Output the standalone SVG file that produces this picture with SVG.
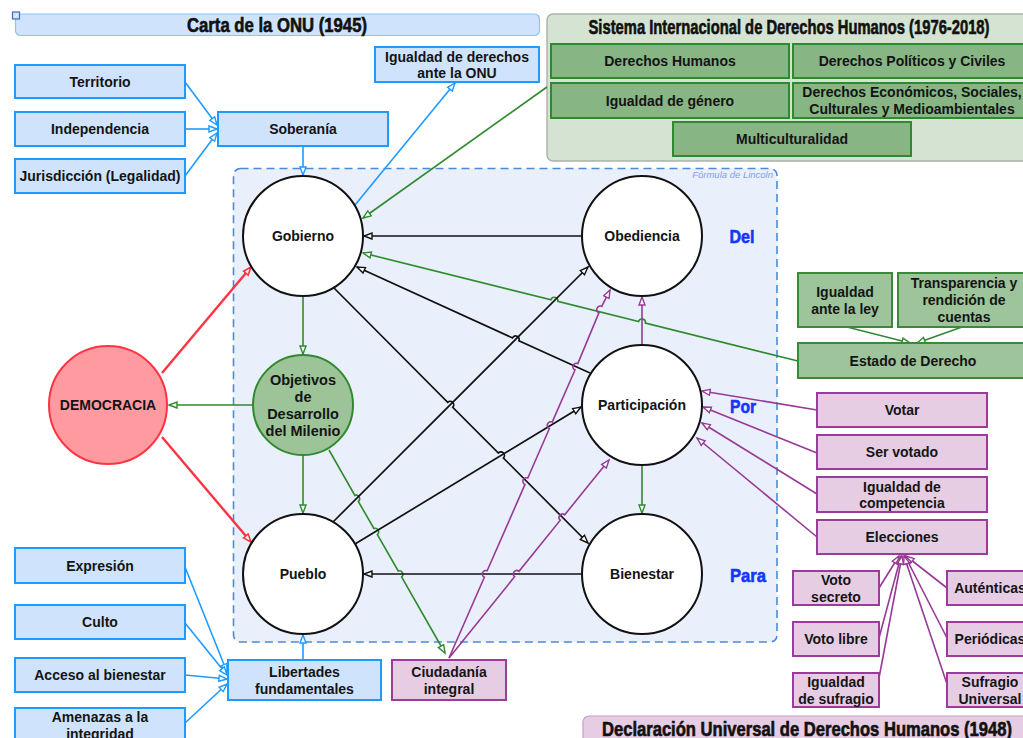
<svg xmlns="http://www.w3.org/2000/svg" width="1023" height="738" viewBox="0 0 1023 738">
  <style>
    .t { font-family: "Liberation Sans", Arial, sans-serif; font-weight: bold; font-size: 14px; fill: #141414; text-anchor: middle; }
    .tc { font-size: 14px; }
    .tobj { font-size: 14.5px; }
    .ttl { font-family: "Liberation Sans", Arial, sans-serif; font-weight: bold; font-size: 19.5px; fill: #111; stroke: #111; stroke-width: 0.6; text-anchor: middle; }
    .dpp { font-family: "Liberation Sans", Arial, sans-serif; font-weight: bold; font-size: 19px; fill: #1535ff; stroke: #1535ff; stroke-width: 0.6; text-anchor: middle; }
    .note { font-family: "Liberation Sans", Arial, sans-serif; font-style: italic; font-size: 9.5px; fill: #7f9fe6; text-anchor: end; }
    .bb { fill: #cfe4fc; stroke: #1e9bff; stroke-width: 2; }
    .pb { fill: #e6cde4; stroke: #9b3c9b; stroke-width: 2; }
    .gb { fill: #9dc49a; stroke: #3a8a3a; stroke-width: 2; }
    .gd { fill: #87b584; stroke: #2f8a2f; stroke-width: 2; }
    .circ { fill: #ffffff; stroke: #111; stroke-width: 2; }
    .k { fill: none; stroke: #111; stroke-width: 1.7; marker-end: url(#ak); }
    .b { fill: none; stroke: #1e9bff; stroke-width: 1.6; marker-end: url(#ab); }
    .g { fill: none; stroke: #2f8a2f; stroke-width: 1.6; marker-end: url(#ag); }
    .p { fill: none; stroke: #963a96; stroke-width: 1.6; marker-end: url(#ap); }
    .r { fill: none; stroke: #ff3344; stroke-width: 2.4; marker-end: url(#ar); }
  </style>
  <defs>
    <marker id="ak" markerUnits="userSpaceOnUse" markerWidth="12" markerHeight="10" refX="9" refY="4" orient="auto">
      <path d="M1,1 L9,4 L1,7 Z" fill="#fff" stroke="#111" stroke-width="1.4"/>
    </marker>
    <marker id="ab" markerUnits="userSpaceOnUse" markerWidth="12" markerHeight="10" refX="9" refY="4" orient="auto">
      <path d="M1,1 L9,4 L1,7 Z" fill="#fff" stroke="#1e9bff" stroke-width="1.4"/>
    </marker>
    <marker id="ag" markerUnits="userSpaceOnUse" markerWidth="12" markerHeight="10" refX="9" refY="4" orient="auto">
      <path d="M1,1 L9,4 L1,7 Z" fill="#fff" stroke="#2f8a2f" stroke-width="1.4"/>
    </marker>
    <marker id="ap" markerUnits="userSpaceOnUse" markerWidth="12" markerHeight="10" refX="9" refY="4" orient="auto">
      <path d="M1,1 L9,4 L1,7 Z" fill="#fff" stroke="#963a96" stroke-width="1.4"/>
    </marker>
    <marker id="ar" markerUnits="userSpaceOnUse" markerWidth="12" markerHeight="10" refX="9" refY="4" orient="auto">
      <path d="M1,1 L9,4 L1,7 Z" fill="#fff" stroke="#ff3344" stroke-width="1.6"/>
    </marker>
  </defs>

  <rect width="1023" height="738" fill="#ffffff"/>

  <!-- Headers and containers -->
  <g id="carta-onu">
    <rect x="15.5" y="14" width="524" height="21.5" rx="5" fill="#cfe4fc" stroke="#8cc2f6" stroke-width="1.2"/>
    <text class="ttl" x="277" y="32" textLength="180" lengthAdjust="spacingAndGlyphs">Carta de la ONU (1945)</text>
    <rect x="12.5" y="12" width="7" height="7" fill="#cfe4fc" stroke="#3d6fb8" stroke-width="1.2"/>
    <path d="M15,17 L18,14" stroke="#ffffff" stroke-width="0.8"/>
  </g>

  <g id="sistema-internacional">
    <rect x="547" y="14" width="490" height="147" rx="6" fill="#d5e4d2" stroke="#a9b1a9" stroke-width="1.4"/>
    <text class="ttl" x="789" y="34" textLength="401" lengthAdjust="spacingAndGlyphs">Sistema Internacional de Derechos Humanos (1976-2018)</text>
  </g>

  <g id="formula-lincoln">
    <rect x="233.5" y="168.5" width="543.5" height="473.5" rx="7" fill="#eaf0fb" stroke="#4a8ad8" stroke-width="1.6" stroke-dasharray="8,5"/>
    <text class="note" x="773" y="178">Fórmula de Lincoln</text>
  </g>

  <g id="declaracion-universal">
    <rect x="583" y="716" width="460" height="30" rx="6" fill="#e6cde4" stroke="#c79ec6" stroke-width="1.2"/>
    <text class="ttl" x="807" y="736" textLength="410" lengthAdjust="spacingAndGlyphs">Declaración Universal de Derechos Humanos (1948)</text>
  </g>

  <!-- Connectors -->
  <g id="connectors">
    <!-- blue -->
    <path class="b" d="M185,82 L217,125"/>
    <path class="b" d="M185,129 L217,129"/>
    <path class="b" d="M185,176 L217,133"/>
    <path class="b" d="M303,146 L303,175"/>
    <path class="b" d="M355,205 L455,83"/>
    <path class="b" d="M185,567 L227,672"/>
    <path class="b" d="M185,623 L227,675"/>
    <path class="b" d="M185,675 L227,679"/>
    <path class="b" d="M185,723 L227,684"/>
    <path class="b" d="M303,660 L303,635"/>
    <!-- red -->
    <path class="r" d="M162,373 L251,267"/>
    <path class="r" d="M162,437 L251,542"/>
    <!-- green -->
    <path class="g" d="M303,296 L303,354"/>
    <path class="g" d="M303,455 L303,513"/>
    <path class="g" d="M253,405 L169,405"/>
    <path class="g" d="M642,465 L642,513"/>
    <path class="g" d="M798,361 L645.4,323.1 A3.5,3.5 0 0 0 638.6,321.5 L557.8,301.4 A3.5,3.5 0 0 0 551,299.8 L363,253"/>
    <path class="g" d="M547,87 L363,218"/>
    <path class="g" d="M329,450 L354.9,495.4 A3.5,3.5 0 0 1 358.3,501.4 L373.9,528.5 A3.5,3.5 0 0 1 377.3,534.5 L398.2,571 A3.5,3.5 0 0 1 401.6,577 L445,653"/>
    <path class="g" d="M847,327 L910,343"/>
    <path class="g" d="M962,327 L917,343"/>
    <!-- black -->
    <path class="k" d="M582,236 L364,236"/>
    <path class="k" d="M590,373 L518.9,340.7 A3.5,3.5 0 0 0 512.5,337.9 L357,267"/>
    <path class="k" d="M333,287 L447.7,402.3 A3.5,3.5 0 0 1 452.7,407.3 L498.4,453 A3.5,3.5 0 0 1 503.4,458 L588,543"/>
    <path class="k" d="M332,523 L588,267"/>
    <path class="k" d="M355,544 L581,407"/>
    <path class="k" d="M582,574 L364,574"/>
    <!-- purple -->
    <path class="p" d="M642,345 L642,297"/>
    <path class="p" d="M449,658 L484.35,577.21 A3.5,3.5 0 0 1 487.15,570.79 L525,484.41 A3.5,3.5 0 0 1 527.8,477.99 L549.4,428.51 A3.5,3.5 0 0 1 552.2,422.09 L575,370.01 A3.5,3.5 0 0 1 577.8,363.59 L598.9,312.81 A3.5,3.5 0 0 1 601.7,306.39 L610,290"/>
    <path class="p" d="M449,658 L514.6,576.72 A3.5,3.5 0 0 1 519,571.28 L560.3,520.22 A3.5,3.5 0 0 1 564.7,514.78 L609,460"/>
    <path class="p" d="M817,410 L702,391"/>
    <path class="p" d="M817,453 L703,407"/>
    <path class="p" d="M817,494 L702,423"/>
    <path class="p" d="M817,537 L697,438"/>
    <path class="p" d="M879,588 L899,556"/>
    <path class="p" d="M879,638 L901,556"/>
    <path class="p" d="M879,678 L902,556"/>
    <path class="p" d="M947,588 L906,556"/>
    <path class="p" d="M947,638 L905,556"/>
    <path class="p" d="M947,684 L904,556"/>
  </g>

  <!-- Blue nodes -->
  <g id="territorio"><rect class="bb" x="15" y="65" width="170" height="33"/><text class="t" x="100" y="86.5">Territorio</text></g>
  <g id="independencia"><rect class="bb" x="15" y="112" width="170" height="34"/><text class="t" x="100" y="134">Independencia</text></g>
  <g id="jurisdiccion"><rect class="bb" x="15" y="159" width="170" height="34"/><text class="t" x="100" y="181">Jurisdicción (Legalidad)</text></g>
  <g id="soberania"><rect class="bb" x="218" y="112" width="170" height="34"/><text class="t" x="303" y="134">Soberanía</text></g>
  <g id="igualdad-onu"><rect class="bb" x="375" y="47" width="164" height="35"/><text class="t" x="457" y="61.5">Igualdad de derechos</text><text class="t" x="457" y="77.5">ante la ONU</text></g>
  <g id="expresion"><rect class="bb" x="15" y="548" width="170" height="35"/><text class="t" x="100" y="570.5">Expresión</text></g>
  <g id="culto"><rect class="bb" x="15" y="605" width="170" height="34"/><text class="t" x="100" y="627">Culto</text></g>
  <g id="acceso-bienestar"><rect class="bb" x="15" y="658" width="170" height="34"/><text class="t" x="100" y="680">Acceso al bienestar</text></g>
  <g id="amenazas"><rect class="bb" x="15" y="708" width="170" height="36"/><text class="t" x="100" y="722">Amenazas a la</text><text class="t" x="100" y="738.5">integridad</text></g>
  <g id="libertades"><rect class="bb" x="228" y="660" width="153" height="40"/><text class="t" x="304.5" y="677">Libertades</text><text class="t" x="304.5" y="694">fundamentales</text></g>

  <!-- Green nodes -->
  <g id="derechos-humanos"><rect class="gd" x="551" y="44" width="238" height="34"/><text class="t" x="670" y="66">Derechos Humanos</text></g>
  <g id="derechos-politicos"><rect class="gd" x="793" y="44" width="238" height="34"/><text class="t" x="912" y="66">Derechos Políticos y Civiles</text></g>
  <g id="igualdad-genero"><rect class="gd" x="551" y="83" width="238" height="35"/><text class="t" x="670" y="105.5">Igualdad de género</text></g>
  <g id="derechos-economicos"><rect class="gd" x="793" y="83" width="238" height="35"/><text class="t" x="912" y="97">Derechos Económicos, Sociales,</text><text class="t" x="912" y="114">Culturales y Medioambientales</text></g>
  <g id="multiculturalidad"><rect class="gd" x="673" y="122" width="238" height="34"/><text class="t" x="792" y="144">Multiculturalidad</text></g>
  <g id="igualdad-ley"><rect class="gb" x="798" y="273" width="94" height="54"/><text class="t" x="845" y="297">Igualdad</text><text class="t" x="845" y="314">ante la ley</text></g>
  <g id="transparencia"><rect class="gb" x="898" y="273" width="132" height="54"/><text class="t" x="964" y="288">Transparencia y</text><text class="t" x="964" y="305">rendición de</text><text class="t" x="964" y="322">cuentas</text></g>
  <g id="estado-derecho"><rect class="gb" x="798" y="343" width="232" height="35"/><text class="t" x="913" y="366">Estado de Derecho</text></g>

  <!-- Purple nodes -->
  <g id="ciudadania"><rect class="pb" x="392" y="660" width="114" height="40"/><text class="t" x="449" y="677">Ciudadanía</text><text class="t" x="449" y="694">integral</text></g>
  <g id="votar"><rect class="pb" x="817" y="393" width="170" height="34"/><text class="t" x="902" y="415">Votar</text></g>
  <g id="ser-votado"><rect class="pb" x="817" y="435" width="170" height="34"/><text class="t" x="902" y="457">Ser votado</text></g>
  <g id="igualdad-competencia"><rect class="pb" x="817" y="477" width="170" height="35"/><text class="t" x="902" y="492">Igualdad de</text><text class="t" x="902" y="508">competencia</text></g>
  <g id="elecciones"><rect class="pb" x="817" y="520" width="170" height="34"/><text class="t" x="902" y="542">Elecciones</text></g>
  <g id="voto-secreto"><rect class="pb" x="793" y="571" width="86" height="34"/><text class="t" x="836" y="585">Voto</text><text class="t" x="836" y="602">secreto</text></g>
  <g id="voto-libre"><rect class="pb" x="793" y="622" width="86" height="34"/><text class="t" x="836" y="644">Voto libre</text></g>
  <g id="igualdad-sufragio"><rect class="pb" x="793" y="673" width="86" height="34"/><text class="t" x="836" y="687">Igualdad</text><text class="t" x="836" y="704">de sufragio</text></g>
  <g id="autenticas"><rect class="pb" x="947" y="571" width="86" height="34"/><text class="t" x="990" y="593">Auténticas</text></g>
  <g id="periodicas"><rect class="pb" x="947" y="622" width="86" height="34"/><text class="t" x="990" y="644">Periódicas</text></g>
  <g id="sufragio-universal"><rect class="pb" x="947" y="673" width="86" height="34"/><text class="t" x="990" y="687">Sufragio</text><text class="t" x="990" y="704">Universal</text></g>

  <!-- Circle nodes -->
  <g id="gobierno"><circle class="circ" cx="303" cy="236" r="60"/><text class="t tc" x="303" y="241">Gobierno</text></g>
  <g id="obediencia"><circle class="circ" cx="642" cy="236" r="60"/><text class="t tc" x="642" y="241">Obediencia</text></g>
  <g id="participacion"><circle class="circ" cx="642" cy="405" r="60"/><text class="t tc" x="642" y="410">Participación</text></g>
  <g id="bienestar"><circle class="circ" cx="642" cy="574" r="60"/><text class="t tc" x="642" y="579">Bienestar</text></g>
  <g id="pueblo"><circle class="circ" cx="303" cy="574" r="60"/><text class="t tc" x="303" y="579">Pueblo</text></g>
  <g id="objetivos-milenio"><circle cx="303" cy="405" r="50" fill="#9cc498" stroke="#2f8a2f" stroke-width="2"/>
    <text class="t tobj" x="303" y="385">Objetivos</text><text class="t tobj" x="303" y="402">de</text><text class="t tobj" x="303" y="419">Desarrollo</text><text class="t tobj" x="303" y="436">del Milenio</text></g>
  <g id="democracia"><circle cx="108" cy="405" r="59" fill="#ff9aa0" stroke="#ff3344" stroke-width="2"/><text class="t" x="108" y="410">DEMOCRACIA</text></g>

  <!-- Del / Por / Para -->
  <g id="del"><text class="dpp" x="742" y="243" textLength="25" lengthAdjust="spacingAndGlyphs">Del</text></g>
  <g id="por"><text class="dpp" x="743" y="413" textLength="26" lengthAdjust="spacingAndGlyphs">Por</text></g>
  <g id="para"><text class="dpp" x="748" y="582" textLength="36" lengthAdjust="spacingAndGlyphs">Para</text></g>
</svg>
